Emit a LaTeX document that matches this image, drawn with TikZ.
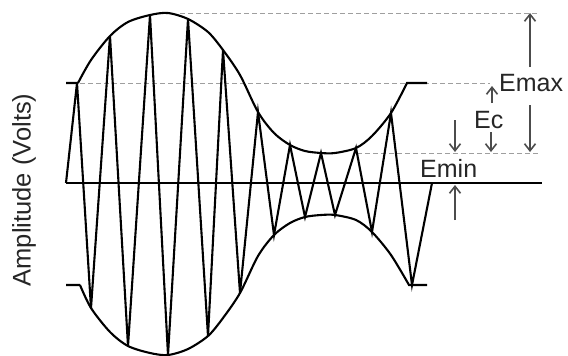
\documentclass[tikz,border=0pt]{standalone}
\usepackage{fontspec}
\setmainfont{Liberation Sans}
\usetikzlibrary{arrows.meta}
\begin{document}
\begin{tikzpicture}[x=1pt,y=-1pt,
  wave/.style={line width=2.1pt, line join=miter, black},
  guide/.style={draw=gray!75, line width=0.8pt, dash pattern=on 5pt off 3pt},
  dimarrow/.style={draw=black!70, line width=1.1pt, -{Straight Barb[length=7pt,width=11pt,line width=1.6pt]}},
  lbl/.style={font=\fontsize{25}{25}\selectfont, inner sep=0pt, anchor=base west, text=black!85}]
\useasboundingbox[fill=white] (0,0) rectangle (568,356);
% dashed reference lines
\draw[guide] (180,13) -- (538,13);
\draw[guide] (80,83) -- (490,83);
\draw[guide] (357,153) -- (538,153);
% axis
\draw[wave] (66,183) -- (542,183);
% upper envelope
\draw[wave] (66,83) -- (78,83) plot[smooth] coordinates {(78,83) (91,60) (110,36) (128,22) (150,15) (168,13) (188,19) (208,32) (223,50) (240,75) (258,112) (274,133) (290,145) (305,151) (321,153) (335,153) (356,148) (372,136) (391,113) (407,83)} -- (427,83);
% lower envelope
\draw[wave] (66,285) -- (80,285) plot[smooth] coordinates {(80,285) (91,308) (110,332) (128,346) (150,353) (168,355) (188,349) (208,336) (223,318) (240,293) (258,256) (274,235) (290,223) (305,217) (321,215) (335,215) (356,220) (372,232) (391,255) (409,285)} -- (427,285);
% carrier
\draw[wave] (66,183) -- (77,83) -- (91,308) -- (110,36) -- (128,346) -- (150,15) -- (168,355) -- (188,19) -- (208,336) -- (223,50) -- (240,293) -- (258,112) -- (274,235) -- (290,145) -- (305,217) -- (321,153) -- (335,215) -- (356,148) -- (372,232) -- (391,113) -- (412,285) -- (432,183);
% dimension arrows
\coordinate (emaxA) at (530,67);  \coordinate (emaxTop) at (530,13);
\coordinate (emaxB) at (530,105); \coordinate (emaxBot) at (530,152);
\coordinate (ecA) at (492,103);   \coordinate (ecTop) at (492,86);
\coordinate (ecB) at (491,132);   \coordinate (ecBot) at (491,152);
\coordinate (eminA) at (455,120); \coordinate (eminTop) at (455,152);
\coordinate (eminB) at (455,220); \coordinate (eminBot) at (455,185);
\draw[dimarrow] (emaxA) -- (emaxTop);
\draw[dimarrow] (emaxB) -- (emaxBot);
\draw[dimarrow] (ecA) -- (ecTop);
\draw[dimarrow] (ecB) -- (ecBot);
\draw[dimarrow] (eminA) -- (eminTop);
\draw[dimarrow] (eminB) -- (eminBot);
% labels
\node[lbl] (emax) at (499,91) {Emax};
\node[lbl] (ec) at (474,128) {Ec};
\node[lbl] (emin) at (420,177) {Emin};
\node[font=\fontsize{25.5}{25.5}\selectfont, inner sep=0pt, rotate=90, text=black!85] (amp) at (24,190) {Amplitude (Volts)};
\end{tikzpicture}
\end{document}
